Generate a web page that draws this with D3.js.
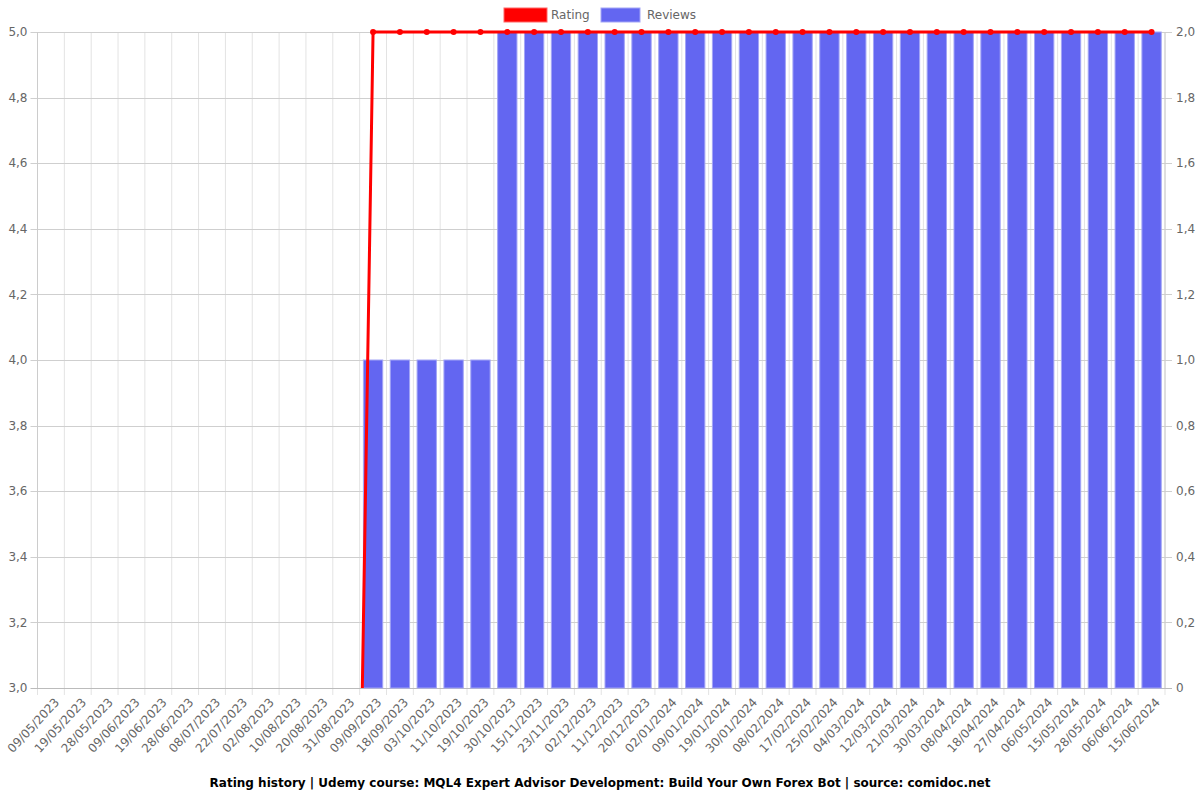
<!DOCTYPE html>
<html><head><meta charset="utf-8">
<script src="https://cdn.jsdelivr.net/npm/d3@7"></script>
<style>body{margin:0;background:#fff}svg{display:block;font-family:"DejaVu Sans",sans-serif}</style>
</head><body><svg id="c" width="1200" height="800"></svg>
<script>
const categories = ["09/05/2023","19/05/2023","28/05/2023","09/06/2023","19/06/2023","28/06/2023","08/07/2023","22/07/2023","02/08/2023","10/08/2023","20/08/2023","31/08/2023","09/09/2023","18/09/2023","03/10/2023","11/10/2023","19/10/2023","30/10/2023","15/11/2023","23/11/2023","02/12/2023","11/12/2023","20/12/2023","02/01/2024","09/01/2024","19/01/2024","30/01/2024","08/02/2024","17/02/2024","25/02/2024","04/03/2024","12/03/2024","21/03/2024","30/03/2024","08/04/2024","18/04/2024","27/04/2024","06/05/2024","15/05/2024","28/05/2024","06/06/2024","15/06/2024"];
const rating = [0,0,0,0,0,0,0,0,0,0,0,0,5,5,5,5,5,5,5,5,5,5,5,5,5,5,5,5,5,5,5,5,5,5,5,5,5,5,5,5,5,5];
const reviews = [0,0,0,0,0,0,0,0,0,0,0,0,1,1,1,1,1,2,2,2,2,2,2,2,2,2,2,2,2,2,2,2,2,2,2,2,2,2,2,2,2,2];
const leftTicks = [3.0,3.2,3.4,3.6,3.8,4.0,4.2,4.4,4.6,4.8,5.0];
const rightTicks = [0,0.2,0.4,0.6,0.8,1.0,1.2,1.4,1.6,1.8,2.0];
const titleText = "Rating history | Udemy course: MQL4 Expert Advisor Development: Build Your Own Forex Bot | source: comidoc.net";

const svg = d3.select("#c");
const L = 37.5, R = 1165, T = 32, B = 688;
const x = d3.scaleBand().domain(categories).range([L, R]).padding(0);
const yL = d3.scaleLinear().domain([3, 5]).range([B, T]);
const yR = d3.scaleLinear().domain([0, 2]).range([B, T]);
const fmt = v => v === 0 ? "0" : d3.format(".1f")(v).replace(".", ",");

// vertical grid
const step = x.step();
const bounds = categories.map((c, i) => x(c)).concat([R]);
svg.append("g").selectAll("line").data(bounds).join("line")
  .attr("x1", d => d).attr("x2", d => d).attr("y1", T).attr("y2", B + 7)
  .attr("stroke", "#e3e3e3").attr("stroke-width", 1);
// horizontal grid
svg.append("g").selectAll("line").data(leftTicks).join("line")
  .attr("x1", L - 7).attr("x2", R + 7).attr("y1", d => Math.round(yL(d)) + 0.5).attr("y2", d => Math.round(yL(d)) + 0.5)
  .attr("stroke", d => d === 3 ? "#bbb" : "#cfcfcf").attr("stroke-width", 1);
// axis lines
svg.append("line").attr("x1", L).attr("x2", L).attr("y1", T).attr("y2", B).attr("stroke", "#ccc");
svg.append("line").attr("x1", R).attr("x2", R).attr("y1", T).attr("y2", B).attr("stroke", "#ccc");

// left labels
svg.append("g").selectAll("text").data(leftTicks).join("text")
  .attr("x", L - 10).attr("y", d => yL(d)).attr("dy", "0.35em").attr("text-anchor", "end")
  .attr("font-size", 12).attr("fill", "#666").text(fmt);
svg.append("g").selectAll("text").data(rightTicks).join("text")
  .attr("x", R + 11).attr("y", d => yR(d)).attr("dy", "0.35em").attr("text-anchor", "start")
  .attr("font-size", 12).attr("fill", "#666").text(fmt);

// x labels
svg.append("g").selectAll("text").data(categories).join("text")
  .attr("transform", d => `translate(${x(d) + step / 2 + 6},${B + 12}) rotate(-47)`)
  .attr("text-anchor", "end").attr("dy", "0.35em")
  .attr("font-size", 12).attr("fill", "#666").text(d => d);

// bars
const bw = step * 0.72;
svg.append("g").selectAll("rect").data(categories.map((c, i) => ({c, v: reviews[i]})).filter(d => d.v > 0)).join("rect")
  .attr("x", d => x(d.c) + (step - bw) / 2).attr("width", bw)
  .attr("y", d => yR(d.v)).attr("height", d => B - yR(d.v))
  .attr("fill", "#6366f1").attr("stroke", "#a3a5f6").attr("stroke-width", 1);

// rating line clipped
svg.append("clipPath").attr("id", "clip").append("rect").attr("x", L).attr("y", T - 5).attr("width", R - L + 5).attr("height", B - T + 5);
const pts = categories.map((c, i) => [x(c) + step / 2, yL(rating[i])]);
const g = svg.append("g").attr("clip-path", "url(#clip)");
g.append("path").attr("d", d3.line()(pts)).attr("fill", "none").attr("stroke", "#ff0000").attr("stroke-width", 3);
g.selectAll("circle").data(pts.filter((p, i) => rating[i] >= 3)).join("circle")
  .attr("cx", d => d[0]).attr("cy", d => d[1]).attr("r", 3).attr("fill", "#ff0000");

// legend
const lg = svg.append("g");
lg.append("rect").attr("x", 504).attr("y", 8).attr("width", 43).attr("height", 14).attr("fill", "#ff0000").attr("stroke", "#ff6666").attr("stroke-width", 1);
lg.append("text").attr("x", 551).attr("y", 15).attr("dy", "0.35em").attr("font-size", 12).attr("fill", "#666").text("Rating");
lg.append("rect").attr("x", 601).attr("y", 8).attr("width", 39).attr("height", 14).attr("fill", "#6366f1").attr("stroke", "#a3a5f6").attr("stroke-width", 1);
lg.append("text").attr("x", 647).attr("y", 15).attr("dy", "0.35em").attr("font-size", 12).attr("fill", "#666").text("Reviews");

// title
svg.append("text").attr("x", 600).attr("y", 787).attr("text-anchor", "middle")
  .attr("font-size", 12).attr("font-weight", "bold").attr("fill", "#000").text(titleText);
</script></body></html>
